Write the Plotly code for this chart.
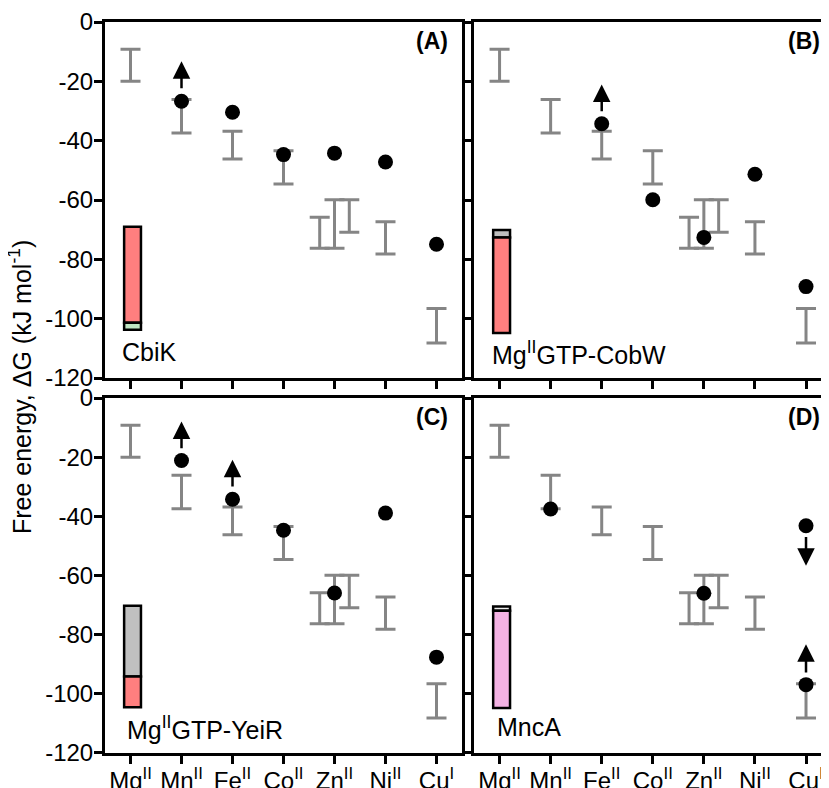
import plotly.graph_objects as go

# ---------------- data ----------------
metals = ["Mg<sup>II</sup>", "Mn<sup>II</sup>", "Fe<sup>II</sup>", "Co<sup>II</sup>",
          "Zn<sup>II</sup>", "Ni<sup>II</sup>", "Cu<sup>I</sup>"]
y_ticks = [0, -20, -40, -60, -80, -100, -120]
y_tick_text = ["0", "-20", "-40", "-60", "-80", "-100", "-120"]

# grey reference ranges (same in every panel)
range_x = [0, 1, 2, 3, 3.71, 4, 4.29, 5, 6]
range_top = [-9.2, -26.1, -36.8, -43.4, -65.8, -59.9, -59.9, -67.3, -96.6]
range_bottom = [-20.0, -37.4, -46.2, -54.6, -76.3, -76.3, -70.9, -78.2, -108.2]

# black points, per panel
dots_A_x = [1, 2, 3, 4, 5, 6]
dots_A_y = [-26.7, -30.4, -44.7, -44.2, -47.2, -74.9]
dots_B_x = [2, 3, 4, 5, 6]
dots_B_y = [-34.3, -59.9, -72.6, -51.3, -89.2]
dots_C_x = [1, 2, 3, 4, 5, 6]
dots_C_y = [-21.1, -34.2, -44.7, -65.9, -38.9, -87.6]
dots_D_x = [1, 4, 6, 6]
dots_D_y = [-37.5, -66.0, -43.2, -96.9]

# arrows: panel, x, tail, tip
arrows = [
    ("A", 1, -22.8, -13.2),
    ("B", 2, -30.6, -21.1),
    ("C", 1, -17.5, -7.9),
    ("C", 2, -30.4, -20.9),
    ("D", 6, -46.5, -56.7),
    ("D", 6, -93.3, -83.2),
]

# stacked bars at the left of each panel: (bottom, top, colour)
bars = {
    "A": [(-101.4, -69.0, "#FF7F7F"), (-103.7, -101.4, "#BFE5C2")],
    "B": [(-72.6, -70.1, "#BEBEBE"), (-104.8, -72.6, "#FF7F7F")],
    "C": [(-94.1, -70.2, "#C0C0C0"), (-104.5, -94.1, "#FF7F7F")],
    "D": [(-71.9, -70.5, "#EDEDED"), (-104.8, -71.9, "#F4B2E4")],
}
proteins = {"A": "CbiK", "B": "Mg<sup>II</sup>GTP-CobW",
            "C": "Mg<sup>II</sup>GTP-YeiR", "D": "MncA"}

dots = {"A": (dots_A_x, dots_A_y), "B": (dots_B_x, dots_B_y),
        "C": (dots_C_x, dots_C_y), "D": (dots_D_x, dots_D_y)}

axes = {"A": ("x", "y"), "B": ("x2", "y2"), "C": ("x3", "y3"), "D": ("x4", "y4")}

FONT = "Arial, Liberation Sans, sans-serif"

fig = go.Figure()

mid = [(a + b) / 2 for a, b in zip(range_top, range_bottom)]
half = [(a - b) / 2 for a, b in zip(range_top, range_bottom)]

for p, (xa, ya) in axes.items():
    # grey ranges
    fig.add_trace(go.Scatter(
        x=range_x, y=mid, mode="markers", xaxis=xa, yaxis=ya,
        marker=dict(size=1, opacity=0),
        error_y=dict(type="data", array=half, visible=True,
                     color="#858585", thickness=3, width=10),
        showlegend=False, hoverinfo="skip"))
    # stacked bar
    for lo, hi, col in bars[p]:
        fig.add_trace(go.Bar(
            x=[0.04], y=[hi - lo], base=[lo], width=0.33, xaxis=xa, yaxis=ya,
            marker=dict(color=col, line=dict(color="black", width=2.5)),
            showlegend=False, hoverinfo="skip"))
    # dots
    dx, dy = dots[p]
    fig.add_trace(go.Scatter(
        x=dx, y=dy, mode="markers", xaxis=xa, yaxis=ya,
        marker=dict(size=15, color="black"),
        showlegend=False, hoverinfo="skip"))

annotations = []
for p, x, tail, tip in arrows:
    xa, ya = axes[p]
    annotations.append(dict(
        x=x, y=tip, ax=x, ay=tail, xref=xa, yref=ya, axref=xa, ayref=ya,
        text="", showarrow=True, arrowhead=2, arrowsize=1.4, arrowwidth=2.5,
        arrowcolor="black", standoff=0, startstandoff=0))

label_pos = {"A": 0.966, "B": 0.98, "C": 0.966, "D": 0.98}
prot_pos = {"A": (0.042, 0.073), "B": (0.045, 0.07), "C": (0.056, 0.07), "D": (0.059, 0.073)}
for p, (xa, ya) in axes.items():
    annotations.append(dict(
        x=label_pos[p], y=0.946, xref=xa + " domain", yref=ya + " domain",
        text="<b>(" + p + ")</b>", showarrow=False, xanchor="right", yanchor="middle",
        font=dict(size=23, color="black", family=FONT)))
    px, py = prot_pos[p]
    annotations.append(dict(
        x=px, y=py, xref=xa + " domain", yref=ya + " domain",
        text=proteins[p], showarrow=False, xanchor="left", yanchor="middle",
        font=dict(size=25, color="black", family=FONT)))

annotations.append(dict(
    x=-0.118, y=0.5, xref="paper", yref="paper", textangle=-90,
    text="Free energy, ΔG (kJ mol<sup>-1</sup>)", showarrow=False,
    xanchor="center", yanchor="middle",
    font=dict(size=25, color="black", family=FONT)))

xdom = {"A": [0, 0.4931], "B": [0.5097, 1], "C": [0, 0.4931], "D": [0.5097, 1]}
ydom = {"A": [0.513, 1], "B": [0.513, 1], "C": [0, 0.4856], "D": [0, 0.4856]}
xrng = {"A": [-0.5, 6.5], "B": [-0.5, 6.45], "C": [-0.5, 6.5], "D": [-0.5, 6.45]}

# page body has an 8px margin, so the figure is 8px smaller and margins shifted
layout = dict(
    width=821, height=780,
    margin=dict(l=97, r=0, t=14, b=35),
    plot_bgcolor="white", paper_bgcolor="white",
    font=dict(family=FONT, color="black"),
    barmode="overlay",
    annotations=annotations,
    showlegend=False,
)
for p, (xa, ya) in axes.items():
    xk = "xaxis" + xa[1:]
    yk = "yaxis" + ya[1:]
    full = p in ("A", "C")
    layout[xk] = dict(
        domain=xdom[p], range=xrng[p], anchor=ya,
        tickvals=list(range(7)), ticktext=metals,
        showticklabels=p in ("C", "D"),
        ticks="outside", ticklen=8, tickwidth=2.5, tickcolor="black",
        ticklabelstandoff=-4,
        showline=True, linewidth=3, linecolor="black", mirror=True,
        showgrid=False, zeroline=False, automargin=False,
        tickfont=dict(size=24, color="black", family=FONT))
    layout[yk] = dict(
        domain=ydom[p], range=[-120, 0], anchor=xa,
        tickvals=y_ticks, ticktext=y_tick_text,
        showticklabels=full,
        ticks="outside", ticklen=8, tickwidth=2.5, tickcolor="black",
        ticklabelstandoff=-4,
        showline=True, linewidth=3, linecolor="black", mirror=full,
        showgrid=False, zeroline=False, automargin=False,
        tickfont=dict(size=24, color="black", family=FONT))

fig.update_layout(**layout)
fig.write_html("out.html")
